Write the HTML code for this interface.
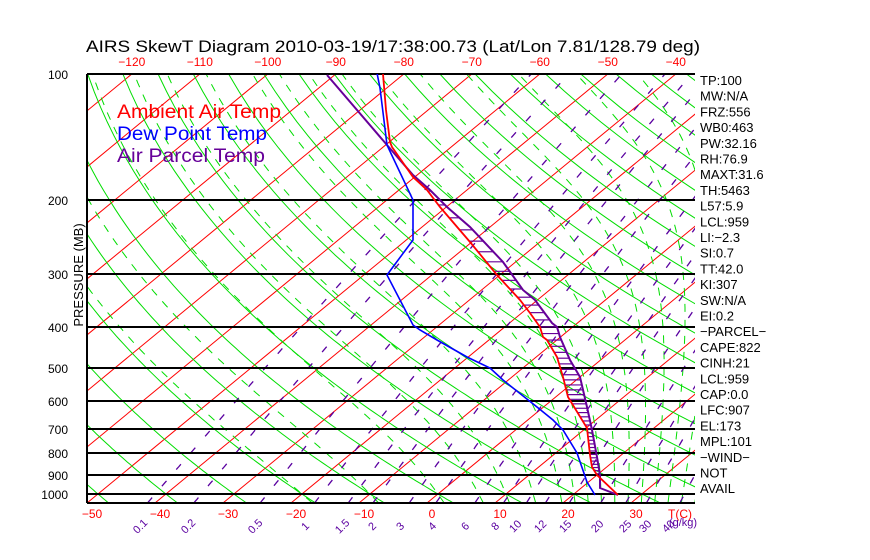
<!DOCTYPE html>
<html><head><meta charset="utf-8">
<style>
html,body{margin:0;padding:0;background:#fff;width:870px;height:560px;overflow:hidden}
svg{display:block}
text{font-family:"Liberation Sans",sans-serif}
</style></head>
<body>
<svg id="s" width="870" height="560" viewBox="0 0 870 560" xmlns="http://www.w3.org/2000/svg">
<defs><clipPath id="c"><rect x="87" y="74" width="608" height="429"/></clipPath></defs>
<g id="bg" clip-path="url(#c)"></g>
<g id="pl" shape-rendering="crispEdges"></g>
<g id="prof" clip-path="url(#c)"></g>
<text x="86" y="52" font-size="17" textLength="614" lengthAdjust="spacingAndGlyphs">AIRS SkewT Diagram 2010-03-19/17:38:00.73 (Lat/Lon 7.81/128.79 deg)</text>
<g id="toplab" fill="#f00" font-size="12" text-anchor="middle"></g>
<g id="botlab" fill="#f00" font-size="12" text-anchor="middle"></g>
<g id="mixlab" fill="#5a00a0" font-size="11" text-anchor="middle"></g>
<g id="plab" font-size="12" text-anchor="end"></g>
<text transform="translate(83,275) rotate(-90)" font-size="13" text-anchor="middle">PRESSURE (MB)</text>
<text x="117" y="118" font-size="19" fill="#f00" textLength="164" lengthAdjust="spacingAndGlyphs">Ambient Air Temp</text>
<text x="117" y="140" font-size="19" fill="#00f" textLength="150" lengthAdjust="spacingAndGlyphs">Dew Point Temp</text>
<text x="117" y="162" font-size="19" fill="#660099" textLength="148" lengthAdjust="spacingAndGlyphs">Air Parcel Temp</text>
<g id="rlab" font-size="13"></g>
</svg>
<script>
const NS="http://www.w3.org/2000/svg";
const Y=p=>74+182.4*Math.log(p/100);
const X=(T,y)=>427+6.8*T+1.214*(503-y);
function el(par,tag,attrs,txt){const e=document.createElementNS(NS,tag);for(const k in attrs)e.setAttribute(k,attrs[k]);if(txt!==undefined)e.textContent=txt;document.getElementById(par).appendChild(e);return e;}
function poly(par,pts,attrs){attrs.points=pts.map(p=>p[0].toFixed(1)+","+p[1].toFixed(1)).join(" ");attrs.fill="none";return el(par,"polyline",attrs);}
for(let T=-170;T<=60;T+=10){poly("bg",[[X(T,503),503],[X(T,74),74]],{stroke:"#ff0000","stroke-width":1});}
for(let th=-50;th<=250;th+=10){const pts=[];for(let p=1050;p>=100;p-=10){const T=(th+273.15)*Math.pow(p/1000,0.2857)-273.15;const y=Y(p);pts.push([X(T,y),y]);}poly("bg",pts,{stroke:"#00dd00","stroke-width":1});}
function es(T){const c=T-273.15;return 6.112*Math.exp(17.67*c/(c+243.5));}
function dTdp(T,p){const e=es(T);const rs=0.622*e/(p-e);return (287*T+2.5e6*rs)/(p*(1004+2.5e6*2.5e6*rs*0.622/(287*T*T)));}
const mvals=[-20,-10,0,6,10,14,18,20,22,24,26,28,30,32,34,36,38,40,42,44];
for(const t0 of mvals){let T=t0+273.15,pts=[];
 let Td=T;for(let p=1000;p<1050;p+=5){Td+=dTdp(Td,p)*5;}
 pts.push([X(Td-273.15,Y(1050)),Y(1050)]);
 for(let p=1000;p>=100;p-=5){const y=Y(p);pts.push([X(T-273.15,y),y]);T-=dTdp(T,p)*5;}
 pts.sort((a,b)=>b[1]-a[1]);
 poly("bg",pts,{stroke:"#00dd00","stroke-width":1,"stroke-dasharray":"8 8"});}
const wv=[0.1,0.2,0.5,1,1.5,2,3,4,6,8,10,12,15,20,25,30,40];
for(const w of wv){const pts=[];for(let p=1050;p>=100;p-=10){const r=w/1000;const e=p*r/(0.622+r);const l=Math.log(e/6.112);const Td=243.5*l/(17.67-l);const y=Y(p);pts.push([X(Td,y),y]);}
 poly("bg",pts,{stroke:"#5a00a0","stroke-width":1.3,"stroke-dasharray":"7 15"});}
const P=[100,200,300,400,500,600,700,800,900,1000];
for(const p of P){const y=Math.round(Y(p));el("pl","line",{x1:87,y1:y,x2:695,y2:y,stroke:"#000","stroke-width":1.6});
 el("plab","text",{x:68,y:y+5},String(p));}
el("pl","line",{x1:87,y1:74,x2:87,y2:503,stroke:"#000","stroke-width":1.6});
el("pl","line",{x1:87,y1:503,x2:695,y2:503,stroke:"#000","stroke-width":1.6});
for(let T=-120;T<=-40;T+=10)el("toplab","text",{x:X(T,74),y:66},String(T).replace("-","\u2212"));
for(let T=-50;T<=30;T+=10)el("botlab","text",{x:X(T,503)+5,y:518},String(T).replace("-","\u2212"));
el("botlab","text",{x:680,y:518},"T(C)");
const ml=[[140,"0.1"],[188,"0.2"],[255,"0.5"],[305,"1"],[342,"1.5"],[372,"2"],[400,"3"],[432,"4"],[465,"6"],[495,"8"],[515,"10"],[540,"12"],[565,"15"],[597,"20"],[625,"25"],[645,"30"],[668,"40"]];
for(const [x,t] of ml)el("mixlab","text",{x:x,y:530,transform:`rotate(-45 ${x} 526)`},t);
el("mixlab","text",{x:683,y:526,"text-anchor":"middle"},"(g/kg)");
const red=[[383,74],[386,110],[390,142],[392,147],[413,177],[427,190],[440,207],[470,242],[497,275],[520,300],[530,313],[540,327],[543,337],[547,340],[557,357],[563,377],[568,397],[587,428],[590,455],[592,467],[597,475],[618,495]];
const par=[[327,75],[387,145],[413,175],[430,190],[447,207],[470,227],[503,262],[523,290],[535,300],[552,323],[557,327],[560,337],[570,360],[580,377],[587,407],[592,430],[597,457],[600,475],[600,488],[618,495]];
const blu=[[377,73],[380,88],[387,145],[413,200],[413,240],[387,275],[413,325],[420,330],[437,340],[467,357],[490,368],[503,380],[537,407],[553,420],[563,430],[577,453],[587,482],[595,495]];
function at(arr,y){for(let i=0;i<arr.length-1;i++){const a=arr[i],b=arr[i+1];if(y>=a[1]&&y<=b[1]){return a[0]+(b[0]-a[0])*(y-a[1])/(b[1]-a[1]||1);}}return null;}
for(let p=190;p<=905;p+=15){const y=Y(p);const a=at(red,y),b=at(par,y);if(a!==null&&b!==null&&b>a+1)el("prof","line",{x1:a,y1:y,x2:b,y2:y,stroke:"#660099","stroke-width":1.2});}
poly("prof",par,{stroke:"#660099","stroke-width":2});
poly("prof",blu,{stroke:"#0000ff","stroke-width":1.6});
poly("prof",red,{stroke:"#ff0000","stroke-width":1.8});
const R=["TP:100","MW:N/A","FRZ:556","WB0:463","PW:32.16","RH:76.9","MAXT:31.6","TH:5463","L57:5.9","LCL:959","LI:\u22122.3","SI:0.7","TT:42.0","KI:307","SW:N/A"," EI:0.2","\u2212PARCEL\u2212","CAPE:822","CINH:21","LCL:959","CAP:0.0","LFC:907","EL:173","MPL:101","\u2212WIND\u2212"," NOT"," AVAIL"];
R.forEach((t,i)=>el("rlab","text",{x:700,y:85+i*15.7},t));
</script>
</body></html>
